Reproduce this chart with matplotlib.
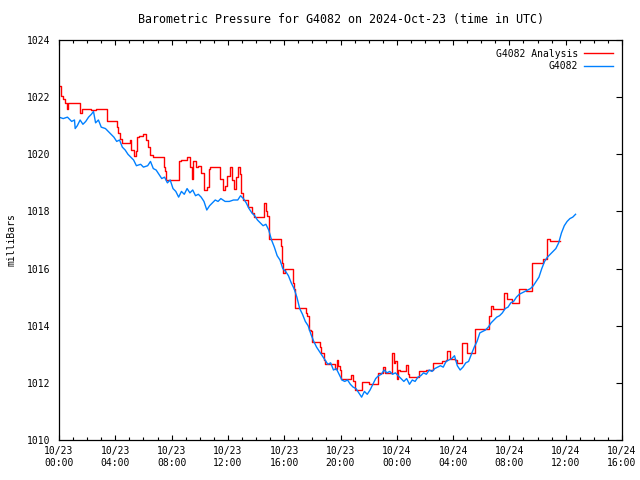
import numpy as np
import matplotlib
matplotlib.use("Agg")
import matplotlib.pyplot as plt

# hours since 2024-10-23 00:00 UTC
obs_hours = [0.0, 0.3, 0.6, 0.9, 1.1, 1.15, 1.3, 1.5, 1.7, 1.9, 2.1, 2.3, 2.45, 2.6, 2.8, 3.0,
             3.3, 3.6, 3.9, 4.1, 4.3, 4.5, 4.7, 4.9, 5.1, 5.3, 5.5, 5.8, 6.0, 6.3, 6.5,
             6.7, 6.9, 7.1, 7.3, 7.5, 7.7, 7.9, 8.1, 8.3, 8.5, 8.7, 8.9, 9.1, 9.3, 9.5,
             9.7, 9.9, 10.1, 10.3, 10.5, 10.7, 10.9, 11.1, 11.3, 11.5, 11.8, 12.1, 12.4,
             12.7, 12.9, 13.1, 13.3, 13.5, 13.7, 13.9, 14.1, 14.3, 14.5, 14.7, 14.9, 15.1,
             15.3, 15.5, 15.7, 15.9, 16.1, 16.3, 16.5, 16.7, 16.9, 17.1, 17.3, 17.5, 17.7,
             17.9, 18.1, 18.3, 18.5, 18.7, 18.9, 19.1, 19.3, 19.5, 19.7, 19.9, 20.1, 20.3,
             20.5, 20.7, 20.9, 21.1, 21.3, 21.5, 21.7, 21.9, 22.1, 22.3, 22.5, 22.7, 22.9,
             23.1, 23.3, 23.5, 23.7, 23.9, 24.1, 24.3, 24.5, 24.7, 24.9, 25.1, 25.3, 25.5,
             25.7, 25.9, 26.1, 26.3, 26.5, 26.7, 26.9, 27.1, 27.3, 27.5, 27.7, 27.9, 28.1,
             28.3, 28.5, 28.7, 28.9, 29.1, 29.3, 29.5, 29.7, 29.9, 30.1, 30.3, 30.5, 30.7,
             30.9, 31.1, 31.3, 31.5, 31.7, 31.9, 32.1, 32.3, 32.5, 32.7, 32.9, 33.1, 33.3,
             33.5, 33.7, 33.9, 34.1, 34.3, 34.5, 34.7, 34.9, 35.1, 35.3, 35.5, 35.7, 35.9,
             36.1, 36.3, 36.5, 36.7]
obs_mb = [1021.3, 1021.25, 1021.3, 1021.15, 1021.2, 1020.9, 1021.0, 1021.2, 1021.05, 1021.15, 1021.3,
          1021.4, 1021.5, 1021.1, 1021.2, 1020.95, 1020.9, 1020.75, 1020.6, 1020.45, 1020.5,
          1020.25, 1020.15, 1020.0, 1019.9, 1019.8, 1019.6, 1019.65, 1019.55, 1019.6, 1019.75,
          1019.5, 1019.45, 1019.3, 1019.15, 1019.2, 1019.0, 1019.1, 1018.8, 1018.7, 1018.5,
          1018.7, 1018.6, 1018.8, 1018.65, 1018.75, 1018.55, 1018.6, 1018.5, 1018.35, 1018.05,
          1018.2, 1018.3, 1018.4, 1018.35, 1018.45, 1018.35, 1018.35, 1018.4, 1018.4, 1018.55,
          1018.45, 1018.3, 1018.1, 1017.95, 1017.85, 1017.7, 1017.6, 1017.5, 1017.55, 1017.35,
          1017.0, 1016.75, 1016.45, 1016.3, 1016.0, 1015.9, 1015.75, 1015.5, 1015.3, 1015.0,
          1014.6, 1014.4, 1014.15, 1014.0, 1013.7, 1013.45, 1013.25, 1013.1, 1012.95, 1012.8,
          1012.65, 1012.7, 1012.45, 1012.5, 1012.3, 1012.1, 1012.05, 1012.1, 1011.95, 1011.85,
          1011.8, 1011.65, 1011.5, 1011.7, 1011.6, 1011.75, 1011.95, 1012.15, 1012.25, 1012.3,
          1012.45, 1012.35, 1012.4, 1012.3, 1012.35, 1012.25, 1012.15, 1012.05, 1012.15, 1011.95,
          1012.1, 1012.05, 1012.2, 1012.25, 1012.35, 1012.3, 1012.45, 1012.4, 1012.5, 1012.55,
          1012.6, 1012.55, 1012.75, 1012.8, 1012.85, 1012.95, 1012.6, 1012.45, 1012.55, 1012.7,
          1012.75, 1013.0, 1013.25, 1013.45, 1013.75, 1013.8, 1013.85, 1013.95, 1014.1, 1014.2,
          1014.3, 1014.35, 1014.45, 1014.6, 1014.65, 1014.8, 1014.85, 1015.0, 1015.1, 1015.15,
          1015.2, 1015.25, 1015.3, 1015.4, 1015.55, 1015.7, 1016.0, 1016.25, 1016.4, 1016.5,
          1016.6, 1016.7, 1016.9, 1017.25, 1017.5, 1017.65, 1017.75, 1017.8, 1017.9]

# analysis: value holds from each time until the next one
ana_hours = [0.0, 0.15, 0.3, 0.4, 0.55, 0.65, 1.5, 1.65, 2.3, 2.6, 3.4, 4.1, 4.2, 4.3, 4.45,
             5.05, 5.15, 5.3, 5.45, 5.55, 5.7, 6.0, 6.2, 6.3, 6.5, 6.7, 7.45, 7.55, 7.6, 8.5,
             8.7, 9.1, 9.3, 9.45, 9.55, 9.75, 9.85, 10.1, 10.3, 10.5, 10.65, 10.75, 11.45,
             11.65, 11.8, 11.95, 12.15, 12.3, 12.45, 12.55, 12.7, 12.85, 12.95, 13.05, 13.45,
             13.7, 13.85, 14.4, 14.55, 14.7, 14.8, 14.95, 15.75, 15.85, 15.95, 16.05, 16.6,
             16.7, 16.8, 17.55, 17.65, 17.75, 17.9, 18.0, 18.55, 18.65, 18.8, 18.9, 19.6,
             19.75, 19.85, 19.95, 20.05, 20.75, 20.9, 21.0, 21.55, 22.05, 22.65, 23.05, 23.15,
             23.65, 23.8, 23.9, 24.0, 24.1, 24.25, 24.65, 24.8, 24.9, 25.55, 26.1, 26.55, 27.2,
             27.5, 27.6, 27.75, 28.1, 28.3, 28.6, 29.0, 29.55, 30.55, 30.7, 30.85, 31.6, 31.8,
             32.15, 32.65, 33.15, 33.6, 34.4, 34.65, 34.9, 35.6]
ana_mb = [1022.4, 1022.05, 1021.95, 1021.8, 1021.6, 1021.8, 1021.45, 1021.6, 1021.55, 1021.6,
          1021.15, 1020.95, 1020.75, 1020.55, 1020.4, 1020.5, 1020.15, 1019.95, 1020.1, 1020.6,
          1020.65, 1020.7, 1020.5, 1020.25, 1019.97, 1019.9, 1019.55, 1019.4, 1019.1, 1019.75,
          1019.8, 1019.9, 1019.55, 1019.15, 1019.75, 1019.55, 1019.6, 1019.35, 1018.75, 1018.85,
          1019.5, 1019.55, 1019.15, 1018.75, 1018.9, 1019.25, 1019.55, 1019.1, 1018.8, 1019.2,
          1019.55, 1019.3, 1018.65, 1018.4, 1018.15, 1017.95, 1017.8, 1017.8, 1018.3, 1018.0,
          1017.85, 1017.05, 1016.8, 1016.2, 1015.85, 1015.98, 1015.5, 1015.3, 1014.62, 1014.45,
          1014.35, 1013.85, 1013.8, 1013.42, 1013.25, 1013.05, 1012.8, 1012.65, 1012.5, 1012.8,
          1012.6, 1012.45, 1012.15, 1012.27, 1012.05, 1011.75, 1012.03, 1011.95, 1012.35, 1012.55,
          1012.35, 1013.05, 1012.7, 1012.75, 1012.15, 1012.45, 1012.4, 1012.62, 1012.3, 1012.2,
          1012.4, 1012.45, 1012.7, 1012.75, 1012.8, 1013.1, 1012.85, 1012.8, 1012.7, 1013.4,
          1013.05, 1013.9, 1014.35, 1014.7, 1014.6, 1015.15, 1014.95, 1014.8, 1015.3, 1015.2,
          1016.2, 1016.35, 1017.05, 1016.95, 1016.95]

tick_hours = [0, 4, 8, 12, 16, 20, 24, 28, 32, 36, 40]
tick_labels = ["10/23\n00:00", "10/23\n04:00", "10/23\n08:00", "10/23\n12:00",
               "10/23\n16:00", "10/23\n20:00", "10/24\n00:00", "10/24\n04:00",
               "10/24\n08:00", "10/24\n12:00", "10/24\n16:00"]

plt.rcParams['font.family'] = 'DejaVu Sans Mono'
plt.rcParams['font.size'] = 7

fig = plt.figure(figsize=(6.4, 4.8), dpi=100)
ax = fig.add_axes([59 / 640, 40 / 480, 563 / 640, 400 / 480])

ax.plot(ana_hours, ana_mb, color='#ff0000', lw=1.0, drawstyle='steps-post', label='G4082 Analysis')
ax.plot(obs_hours, obs_mb, color='#0080ff', lw=1.0, label='G4082')

ax.set_xlim(0, 40)
ax.set_ylim(1010, 1024)
ax.set_xticks(tick_hours)
ax.set_xticklabels(tick_labels, linespacing=1.3)
ax.set_xticks(np.arange(0, 41, 1), minor=True)
ax.set_yticks(np.arange(1010, 1025, 2))
ax.tick_params(axis='x', which='major', direction='in', top=True, length=3.5, width=0.8, pad=4)
ax.tick_params(axis='x', which='minor', direction='in', top=True, length=2, width=0.8)
ax.tick_params(axis='y', which='major', direction='in', left=False, right=True, length=4, width=0.8, pad=6)
for s in ax.spines.values():
    s.set_linewidth(0.9)

ax.set_ylabel('milliBars', labelpad=8)
ax.set_title('Barometric Pressure for G4082 on 2024-Oct-23 (time in UTC)', pad=12)

ax.legend(loc='upper right', frameon=False, markerfirst=False, handlelength=3.0,
          handletextpad=0.6, labelspacing=0.25, borderaxespad=0.5, fontsize=7)

fig.savefig('out.png', dpi=100)
